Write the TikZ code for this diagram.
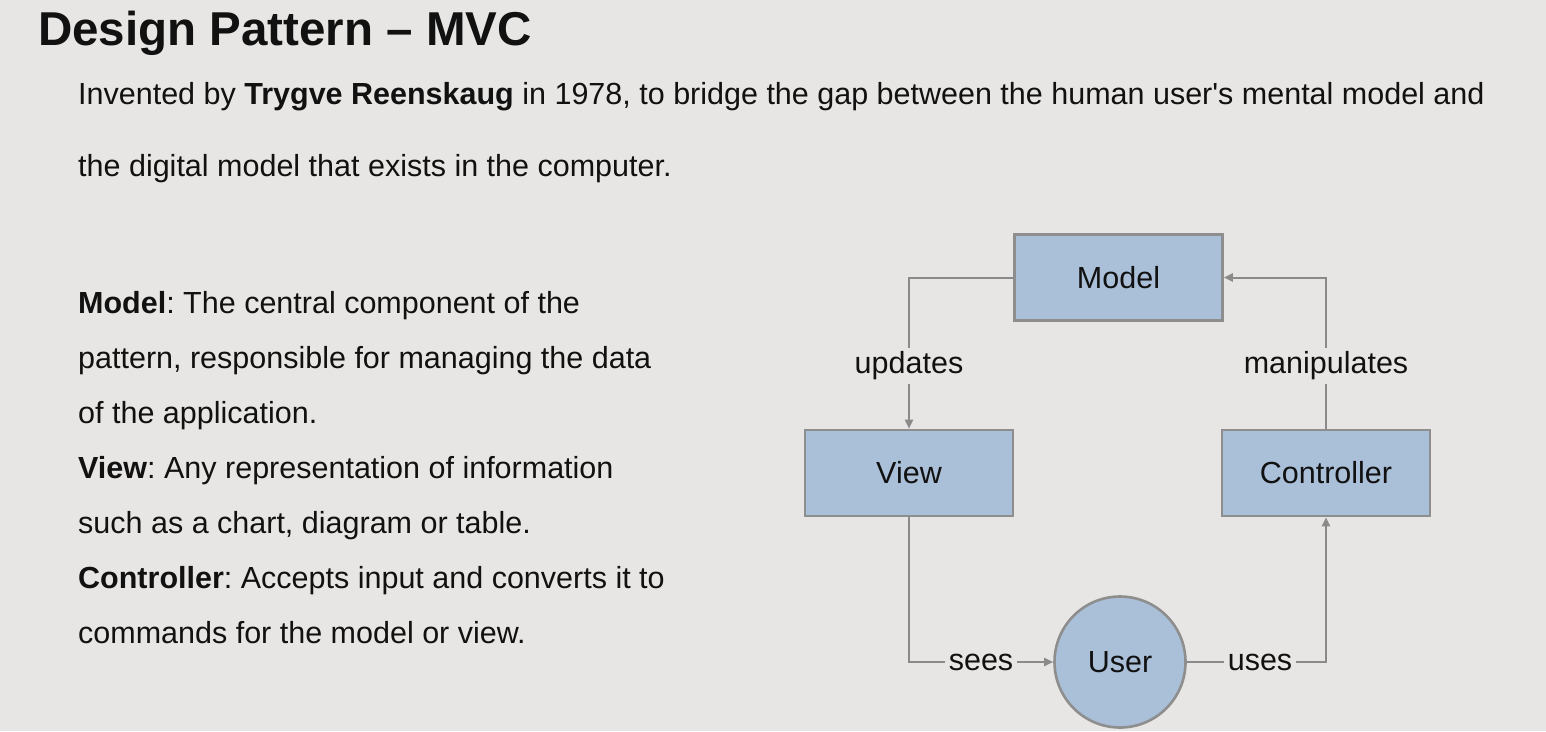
\documentclass[tikz,border=0pt]{standalone}
\usepackage{fontspec}
\setmainfont{Liberation Sans}
% same face without the TeX quote mapping, for a straight apostrophe
\newfontfamily\straightq{Liberation Sans}[Ligatures=ResetAll]
\usetikzlibrary{arrows.meta}
\definecolor{slidebg}{HTML}{E8E6E4}
\definecolor{boxfill}{HTML}{AABFD8}
\definecolor{boxline}{HTML}{8E8E8E}
\definecolor{wire}{HTML}{8A8A8A}
\definecolor{ink}{HTML}{111111}
\frenchspacing
\begin{document}
\begin{tikzpicture}[x=1pt,y=-1pt,
  every node/.style={text=ink},
  txt/.style={font=\fontsize{30.5}{36}\selectfont},
  body/.style={txt, anchor=base west, inner sep=0pt},
  block/.style={txt, draw=boxline, line width=2.6pt, fill=boxfill, minimum width=208pt, minimum height=86pt, inner sep=0pt},
  person/.style={txt, circle, draw=boxline, line width=2.6pt, fill=boxfill, minimum size=131pt, inner sep=0pt},
  flow/.style={draw=wire, line width=2pt, -{Triangle[length=9pt,width=8pt]}},
  tag/.style={txt, fill=slidebg, inner sep=4pt}
]
% canvas
\fill[slidebg] (0,0) rectangle (1546,731);
\useasboundingbox (0,0) rectangle (1546,731);

% heading
\node[anchor=base west, inner sep=0pt, font=\fontsize{47.5}{56}\selectfont\bfseries] (title) at (38,45) {Design Pattern -- MVC};

% introduction
\node[body] (intro1) at (78,104) {Invented by \textbf{Trygve Reenskaug} in 1978, to bridge the gap between the human user{\straightq'}s mental model and};
\node[body] (intro2) at (78,176) {the digital model that exists in the computer.};

% definitions
\node[body] (d1) at (78,313) {\textbf{Model}: The central component of the};
\node[body] (d2) at (78,368) {pattern, responsible for managing the data};
\node[body] (d3) at (78,423) {of the application.};
\node[body] (d4) at (78,478) {\textbf{View}: Any representation of information};
\node[body] (d5) at (78,533) {such as a chart, diagram or table.};
\node[body] (d6) at (78,588) {\textbf{Controller}: Accepts input and converts it to};
\node[body] (d7) at (78,643) {commands for the model or view.};

% MVC blocks
\node[block] (model) at (1118.5,277.5) {Model};
\node[block] (view) at (909,473) {View};
\node[block] (ctrl) at (1326,473) {Controller};
\node[person] (user) at (1120,662) {User};

% corner points of the wiring
\coordinate (tl) at (909,277.5);
\coordinate (tr) at (1326,277.5);
\coordinate (bl) at (909,662);
\coordinate (br) at (1326,662);

% connectors
\draw[flow] (model.west) -- (tl) -- (view.north);
\draw[flow] (ctrl.north) -- (tr) -- (model.east);
\draw[flow] (view.south) -- (bl) -- (user.west);
\draw[flow] (user.east) -- (br) -- (ctrl.south);

% connector labels
\node[tag] (lupd) at (909,366) {updates};
\node[tag] (lman) at (1326,366) {manipulates};
\node[tag] (lsee) at (981,662) {sees};
\node[tag] (luse) at (1260,662) {uses};
\end{tikzpicture}
\end{document}
